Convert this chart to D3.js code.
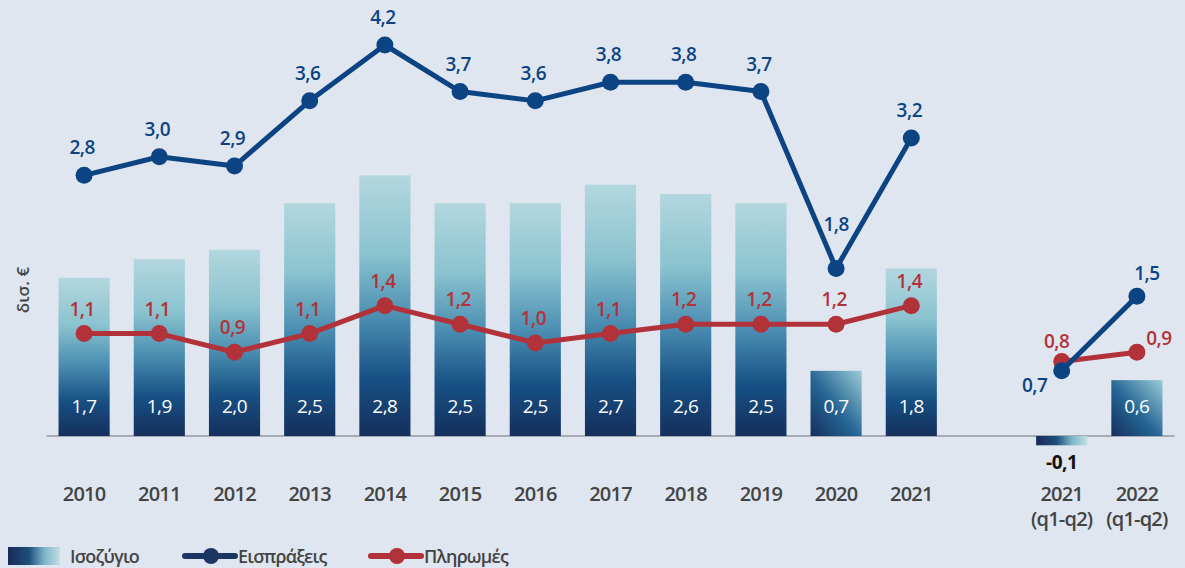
<!DOCTYPE html>
<html>
<head>
<meta charset="utf-8">
<script src="https://cdn.jsdelivr.net/npm/d3@7"></script>
<style>
  body { margin: 0; background: #dfe6ef; }
  svg { display: block; font-family: "Open Sans", "Noto Sans", sans-serif; }
</style>
</head>
<body>
<div id="chart"></div>
<script>
////////////////////////////////////////////////////////////////////////
// Data (δισ. €)
let annualYears = ["2010", "2011", "2012", "2013", "2014", "2015", "2016",
  "2017", "2018", "2019", "2020", "2021"];
let halfYears = ["2021 (q1-q2)", "2022 (q1-q2)"];

let balance = [1.7, 1.9, 2.0, 2.5, 2.8, 2.5, 2.5, 2.7, 2.6, 2.5, 0.7, 1.8];
let receipts = [2.8, 3.0, 2.9, 3.6, 4.2, 3.7, 3.6, 3.8, 3.8, 3.7, 1.8, 3.2];
let payments = [1.1, 1.1, 0.9, 1.1, 1.4, 1.2, 1.0, 1.1, 1.2, 1.2, 1.2, 1.4];

let balanceH1 = [-0.1, 0.6];
let receiptsH1 = [0.7, 1.5];
let paymentsH1 = [0.8, 0.9];

let legendNames = ["Ισοζύγιο", "Εισπράξεις", "Πληρωμές"];
let yLabel = "δισ. €";

////////////////////////////////////////////////////////////////////////
// Canvas
let width = 1185;
let height = 568;

let svg = d3.select("#chart")
  .append("svg")
  .attr("width", width).attr("height", height);

let blue = "#0c4383";
let red = "#b2323a";
let textGrey = "#444444";

// greek style numbers: comma decimal, plain hyphen minus
let locale = d3.formatLocale({ decimal: ",", thousands: ".", grouping: [3], currency: ["", "€"], minus: "-" });
let fmt = locale.format(".1f");

// a blank slot separates the yearly part from the half-year part
let domain = annualYears.concat([" "], halfYears);

let xScale = d3.scaleBand()
  .domain(domain)
  .range([46.5, 1174.5])
  .paddingInner(0.32)
  .paddingOuter(0.16);

let yScale = d3.scaleLinear()
  .domain([0, 4.2])
  .range([436, 45]);

let cx = d => xScale(d) + xScale.bandwidth() / 2;

////////////////////////////////////////////////////////////////////////
// gradients
let defs = svg.append("defs");

function addGradient(id, x1, y1, x2, y2, stops) {
  let g = defs.append("linearGradient")
    .attr("id", id)
    .attr("x1", x1).attr("y1", y1).attr("x2", x2).attr("y2", y2);
  stops.forEach(s => g.append("stop").attr("offset", s[0]).attr("stop-color", s[1]));
}

addGradient("barGrad", 0, 0, 0, 1, [
  [0, "#b3d7de"], [0.3, "#8ac3cf"], [0.55, "#4a8db1"],
  [0.78, "#175083"], [1, "#152f5c"]]);
addGradient("barDiag", 0, 1, 1, 0, [
  [0, "#162f5d"], [0.45, "#246493"], [1, "#9acbd6"]]);
addGradient("barNeg", 0, 0, 1, 0, [
  [0, "#1a2a58"], [0.4, "#1d4e7c"], [0.7, "#7db5c6"], [1, "#c3dfe4"]]);

////////////////////////////////////////////////////////////////////////
// baseline
svg.append("line")
  .attr("x1", 46.5).attr("x2", 1174.5)
  .attr("y1", yScale(0)).attr("y2", yScale(0))
  .attr("stroke", "#a7abb3")
  .attr("stroke-width", 2);

////////////////////////////////////////////////////////////////////////
// bars
let barData = annualYears.map((k, i) => ({ key: k, v: balance[i] }))
  .concat(halfYears.map((k, i) => ({ key: k, v: balanceH1[i] })));

function barFill(d) {
  if (d.v < 0) return "url(#barNeg)";
  if (d.v < 1) return "url(#barDiag)";
  return "url(#barGrad)";
}

svg.append("g")
  .selectAll("rect")
  .data(barData)
  .enter()
  .append("rect")
  .attr("x", d => xScale(d.key))
  .attr("width", xScale.bandwidth())
  .attr("y", d => yScale(Math.max(0, d.v)))
  .attr("height", d => Math.abs(yScale(d.v) - yScale(0)))
  .attr("fill", barFill);

svg.append("g")
  .selectAll("text")
  .data(barData)
  .enter()
  .append("text")
  .attr("x", d => cx(d.key))
  .attr("y", d => d.v < 0 ? yScale(0) + 33 : yScale(0) - 23)
  .attr("text-anchor", "middle")
  .attr("font-size", 19)
  .attr("letter-spacing", -0.5)
  .attr("font-weight", d => d.v < 0 ? 700 : 500)
  .attr("fill", d => d.v < 0 ? "#111" : "#fff")
  .text(d => fmt(d.v));

////////////////////////////////////////////////////////////////////////
// lines
let line = d3.line().x(d => cx(d.key)).y(d => yScale(d.v));

// label offsets (dx, dy from the point) where they differ from the default
let receiptOffsets = { "2020": [0, -37], "2021 (q1-q2)": [-27, 21], "2022 (q1-q2)": [10, -16] };
let paymentOffsets = { "2021 (q1-q2)": [-5, -14], "2022 (q1-q2)": [22, -7] };

function drawSeries(annual, half, color, offsets, defaultDy) {
  let parts = [
    annualYears.map((k, i) => ({ key: k, v: annual[i] })),
    halfYears.map((k, i) => ({ key: k, v: half[i] }))
  ];
  let g = svg.append("g");

  g.selectAll("path")
    .data(parts)
    .enter()
    .append("path")
    .attr("d", line)
    .attr("fill", "none")
    .attr("stroke", color)
    .attr("stroke-width", 5)
    .attr("stroke-linejoin", "round");

  let pts = parts[0].concat(parts[1]);

  g.selectAll("circle")
    .data(pts)
    .enter()
    .append("circle")
    .attr("cx", d => cx(d.key))
    .attr("cy", d => yScale(d.v))
    .attr("r", 8.5)
    .attr("fill", color);

  g.selectAll("text")
    .data(pts)
    .enter()
    .append("text")
    .attr("x", d => cx(d.key) + (offsets[d.key] ? offsets[d.key][0] : -2))
    .attr("y", d => yScale(d.v) + (offsets[d.key] ? offsets[d.key][1] : defaultDy))
    .attr("text-anchor", "middle")
    .attr("font-size", 19)
    .attr("letter-spacing", -0.5)
    .attr("font-weight", 600)
    .attr("fill", color)
    .text(d => fmt(d.v));
}

drawSeries(payments, paymentsH1, red, paymentOffsets, -18);
drawSeries(receipts, receiptsH1, blue, receiptOffsets, -21);

////////////////////////////////////////////////////////////////////////
// x labels
let xLabels = svg.append("g")
  .selectAll("text")
  .data(annualYears.concat(halfYears))
  .enter()
  .append("text")
  .attr("x", d => cx(d))
  .attr("y", 501)
  .attr("text-anchor", "middle")
  .attr("font-size", 20)
  .attr("letter-spacing", -0.8)
  .attr("font-weight", 600)
  .attr("fill", textGrey);

xLabels.each(function (d) {
  let parts = d.split(" ");
  let t = d3.select(this);
  parts.forEach((p, i) => {
    t.append("tspan")
      .attr("x", cx(d))
      .attr("dy", i == 0 ? 0 : 25)
      .text(p);
  });
});

// y label
svg.append("text")
  .attr("transform", "translate(29,290) rotate(-90)")
  .attr("text-anchor", "middle")
  .attr("font-size", 17)
  .attr("font-weight", 600)
  .attr("fill", textGrey)
  .text(yLabel);

////////////////////////////////////////////////////////////////////////
// legend
let legend = svg.append("g");

legend.append("rect")
  .attr("x", 8).attr("y", 547)
  .attr("width", 52).attr("height", 18)
  .attr("fill", "url(#barNeg)");
legend.append("text")
  .attr("x", 70).attr("y", 563)
  .attr("font-size", 18).attr("letter-spacing", -0.8)
  .attr("font-weight", 600).attr("fill", textGrey)
  .text(legendNames[0]);

[[185, "#1c3664", legendNames[1]], [371, red, legendNames[2]]].forEach(function (l) {
  legend.append("line")
    .attr("x1", l[0]).attr("x2", l[0] + 50)
    .attr("y1", 556).attr("y2", 556)
    .attr("stroke", l[1]).attr("stroke-width", 6)
    .attr("stroke-linecap", "round");
  legend.append("circle")
    .attr("cx", l[0] + 26).attr("cy", 556).attr("r", 8)
    .attr("fill", l[1]);
  legend.append("text")
    .attr("x", l[0] + 53).attr("y", 563)
    .attr("font-size", 18).attr("letter-spacing", -0.8)
    .attr("font-weight", 600).attr("fill", textGrey)
    .text(l[2]);
});
</script>
</body>
</html>
